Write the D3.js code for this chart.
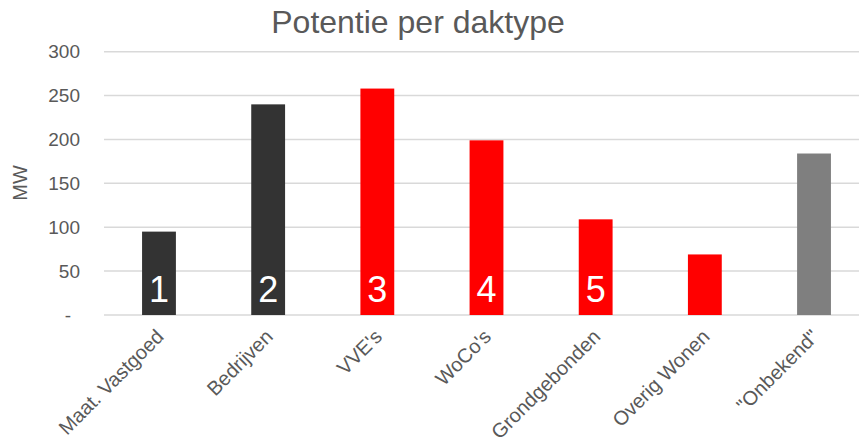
<!DOCTYPE html>
<html>
<head>
<meta charset="utf-8">
<script src="https://cdn.jsdelivr.net/npm/d3@7"></script>
<style>
  html, body { margin: 0; padding: 0; background: #fff; }
  svg { display: block; font-family: "Liberation Sans", Arial, sans-serif; }
</style>
</head>
<body>
<svg id="chart" width="859" height="444"></svg>
<script>
const categories = ["Maat. Vastgoed", "Bedrijven", "VVE's", "WoCo's", "Grondgebonden", "Overig Wonen", "\"Onbekend\""];
const values = [95, 240, 258, 199, 109, 69, 184];
const barLabels = ["1", "2", "3", "4", "5", "", ""];
const groups = ["dark", "dark", "red", "red", "red", "red", "grey"];
const yTicks = [0, 50, 100, 150, 200, 250, 300];
const yTickLabels = ["-", "50", "100", "150", "200", "250", "300"];
const title = "Potentie per daktype";
const yTitle = "MW";

const colorOf = d3.scaleOrdinal().domain(["dark", "red", "grey"]).range(["#333333", "#ff0000", "#7f7f7f"]);

const svg = d3.select("#chart");
const x = d3.scaleBand().domain(categories).range([104.4, 868.6]).paddingInner(0.69).paddingOuter(0.345);
const y = d3.scaleLinear().domain([0, 300]).range([315, 51.7]);

// gridlines
svg.append("g").selectAll("line").data(yTicks).join("line")
  .attr("x1", 104).attr("x2", 859)
  .attr("y1", d => y(d)).attr("y2", d => y(d))
  .attr("stroke", "#d9d9d9").attr("stroke-width", 1.5);

// y tick labels
svg.append("g").selectAll("text").data(yTicks).join("text")
  .attr("x", (d, i) => i === 0 ? 71 : 80)
  .attr("y", d => y(d))
  .attr("dy", "0.35em")
  .attr("text-anchor", "end")
  .attr("font-size", 19)
  .attr("fill", "#595959")
  .text((d, i) => yTickLabels[i]);

// y title
svg.append("text")
  .attr("transform", "translate(27,183) rotate(-90)")
  .attr("text-anchor", "middle")
  .attr("font-size", 20)
  .attr("fill", "#595959")
  .text(yTitle);

// bars
svg.append("g").selectAll("rect").data(values).join("rect")
  .attr("x", (d, i) => x(categories[i]))
  .attr("width", x.bandwidth())
  .attr("y", d => y(d))
  .attr("height", d => y(0) - y(d))
  .attr("fill", (d, i) => colorOf(groups[i]));

// numbers in bars
svg.append("g").selectAll("text").data(barLabels).join("text")
  .attr("x", (d, i) => x(categories[i]) + x.bandwidth() / 2)
  .attr("y", 301.5)
  .attr("text-anchor", "middle")
  .attr("font-size", 36)
  .attr("fill", "#ffffff")
  .text(d => d);

// x labels
svg.append("g").selectAll("text").data(categories).join("text")
  .attr("transform", d => `translate(${x(d) + x.bandwidth() / 2 + 1},${333}) rotate(-45)`)
  .attr("text-anchor", "end")
  .attr("dy", "0.35em")
  .attr("font-size", 20)
  .attr("fill", "#595959")
  .text(d => d);

// title
svg.append("text")
  .attr("x", 418).attr("y", 33)
  .attr("text-anchor", "middle")
  .attr("font-size", 32)
  .attr("fill", "#595959")
  .text(title);
</script>
</body>
</html>
